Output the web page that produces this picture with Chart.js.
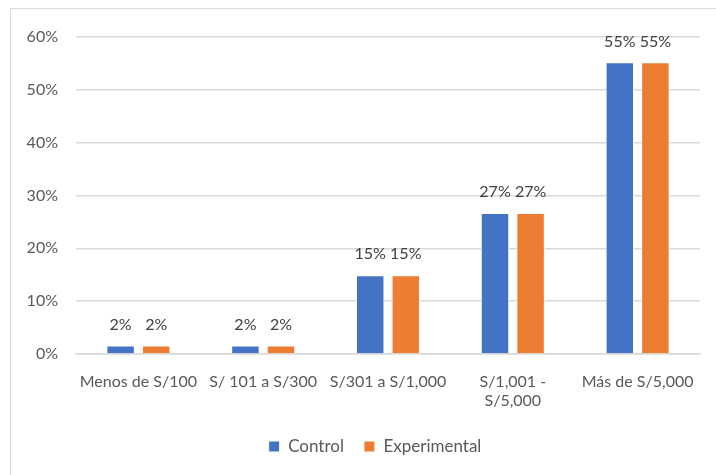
<!DOCTYPE html>
<html>
<head>
<meta charset="utf-8">
<script src="https://cdn.jsdelivr.net/npm/chart.js@4.4.1/dist/chart.umd.min.js"></script>
<style>
    html, body { margin: 0; padding: 0; background: #fff; }
    #wrap { position: relative; width: 716px; height: 475px; overflow: hidden; }
    #frame {
        position: absolute; left: 10px; top: 8px;
        width: 800px; height: 600px;
        border: 1px solid #d9d9d9;
    }
    #chart { position: absolute; left: 0; top: 0; }
</style>
</head>
<body>
<div id="wrap">
    <div id="frame"></div>
    <canvas id="chart" width="716" height="475"></canvas>
</div>
<script>
/* =========================================================
   DATA
========================================================= */
const categories = [
    "Menos de S/100",
    "S/ 101 a S/300",
    "S/301 a S/1,000",
    ["S/1,001 -", "S/5,000"],
    "Más de S/5,000"
];
const controlValues = [1.6, 1.6, 14.9, 26.7, 55.2];
const experimentalValues = [1.6, 1.6, 14.9, 26.7, 55.2];
const yTicks = [0, 10, 20, 30, 40, 50, 60];

const FONT = "Lato, 'Open Sans', sans-serif";
const TEXT = "#595959";

/* --- value labels above bars --- */
const barLabels = {
    id: "barLabels",
    afterLayout(chart) {
        // legend sits a little right of centre in the original
        chart.legend.left += 25;
        chart.legend.right += 25;
    },
    afterDatasetsDraw(chart) {
        const ctx = chart.ctx;
        ctx.save();
        ctx.font = "16px " + FONT;
        ctx.fillStyle = "#404040";
        ctx.textAlign = "center";
        ctx.textBaseline = "middle";
        chart.data.datasets.forEach((ds, i) => {
            chart.getDatasetMeta(i).data.forEach((bar, j) => {
                ctx.fillText(Math.round(ds.data[j]) + "%", bar.x, bar.y - 21);
            });
        });
        ctx.restore();
    }
};

/* =========================================================
   CHART
========================================================= */
new Chart(document.getElementById("chart"), {
    type: "bar",
    data: {
        labels: categories,
        datasets: [
            {
                label: "Control",
                data: controlValues,
                backgroundColor: "#4472c4",
                borderColor: "#ffffff",
                borderWidth: 1,
                categoryPercentage: 0.57,
                barPercentage: 0.8
            },
            {
                label: "Experimental",
                data: experimentalValues,
                backgroundColor: "#ed7d31",
                borderColor: "#ffffff",
                borderWidth: 1,
                categoryPercentage: 0.57,
                barPercentage: 0.8
            }
        ]
    },
    options: {
        responsive: false,
        animation: false,
        devicePixelRatio: 1,
        layout: { padding: { left: 0, right: 16, top: 37, bottom: 10 } },
        plugins: {
            tooltip: { enabled: false },
            legend: {
                position: "bottom",
                labels: {
                    font: { family: FONT, size: 17 },
                    color: TEXT,
                    boxWidth: 11,
                    boxHeight: 11,
                    padding: 20
                }
            }
        },
        scales: {
            x: {
                grid: { display: false, drawTicks: false },
                border: { color: "#d9d9d9", width: 1.5 },
                ticks: {
                    color: TEXT,
                    font: { family: FONT, size: 16, lineHeight: 1.2 },
                    padding: 18,
                    maxRotation: 0,
                    autoSkip: false
                },
                afterFit(scale) { scale.height = 64; }
            },
            y: {
                min: 0,
                max: 60,
                afterBuildTicks(scale) {
                    scale.ticks = yTicks.map(v => ({ value: v }));
                },
                grid: { color: "#d9d9d9", lineWidth: 1.5, drawTicks: false },
                border: { display: false },
                ticks: {
                    color: TEXT,
                    font: { family: FONT, size: 16 },
                    padding: 18,
                    callback: v => v + "%"
                },
                afterFit(scale) { scale.width = 76; }
            }
        }
    },
    plugins: [barLabels]
});
</script>
</body>
</html>
